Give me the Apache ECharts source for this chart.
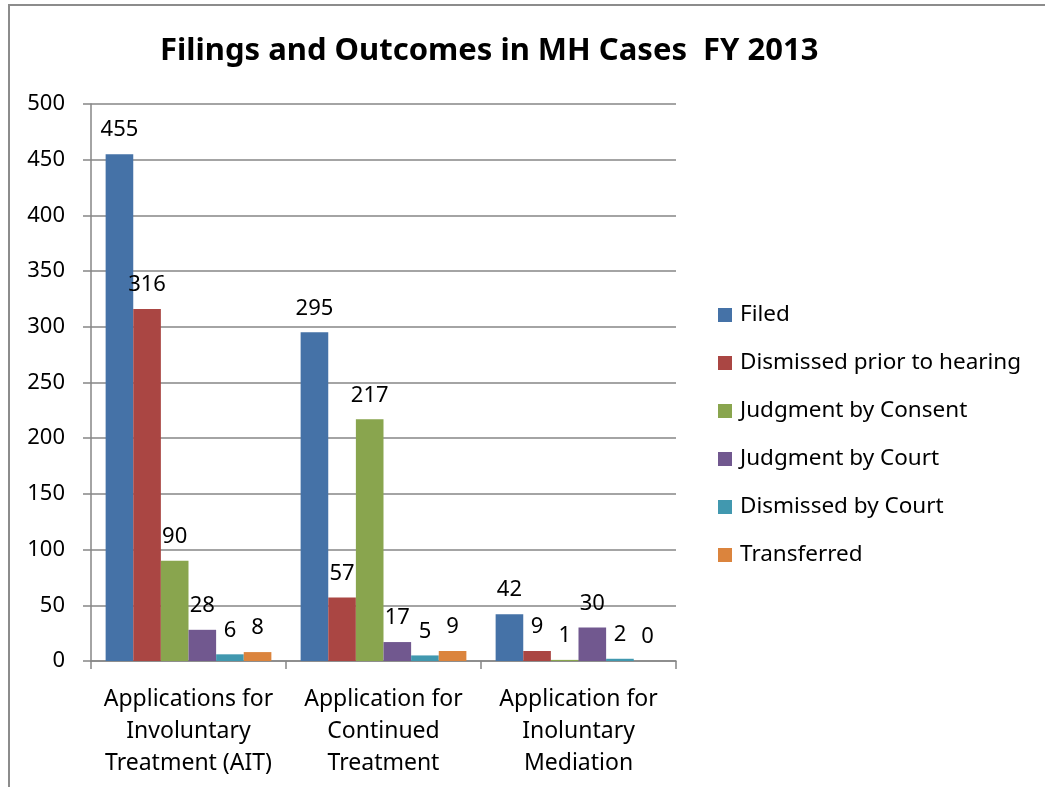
<!DOCTYPE html>
<html>
<head>
<meta charset="utf-8">
<script src="https://cdn.jsdelivr.net/npm/echarts@6/dist/echarts.min.js"></script>
<style>html,body{margin:0;padding:0;background:#fff;}#c{width:1045px;height:787px;}</style>
</head>
<body>
<div id="c"></div>
<script>
const categories = ["Applications for\nInvoluntary\nTreatment (AIT)", "Application for\nContinued\nTreatment", "Application for\nInoluntary\nMediation"];
const seriesNames = ["Filed", "Dismissed prior to hearing", "Judgment by Consent", "Judgment by Court", "Dismissed by Court", "Transferred"];
const filed = [455, 295, 42];
const dismissedPrior = [316, 57, 9];
const judgmentConsent = [90, 217, 1];
const judgmentCourt = [28, 17, 30];
const dismissedCourt = [6, 5, 2];
const transferred = [8, 9, 0];
const yTicks = {min: 0, max: 500, interval: 50};
const colors = ["#4572A7", "#AA4643", "#89A54E", "#71588F", "#4198AF", "#DB843D"];
const values = [filed, dismissedPrior, judgmentConsent, judgmentCourt, dismissedCourt, transferred];
const FONT = "Noto Sans";

const chart = echarts.init(document.getElementById('c'), null, {renderer: 'canvas'});
chart.setOption({
  animation: false,
  textStyle: {fontFamily: FONT},
  title: {
    text: "Filings and Outcomes in MH Cases  FY 2013",
    left: 160, top: 36, padding: 0,
    textStyle: {fontFamily: FONT, fontSize: 31, fontWeight: 'bold', color: '#000'}
  },
  graphic: [{
    type: 'rect', silent: true, z: -1,
    shape: {x: 9, y: 5, width: 1100, height: 900},
    style: {fill: 'none', stroke: '#8c8c8c', lineWidth: 2}
  }],
  legend: {
    orient: 'vertical', left: 718, top: 303, padding: 0,
    itemWidth: 14, itemHeight: 14, itemGap: 24,
    icon: 'rect',
    itemStyle: {borderWidth: 0},
    textStyle: {fontFamily: FONT, fontSize: 22.5, color: '#000', lineHeight: 24, padding: [0,0,0,3]},
    data: seriesNames
  },
  grid: {left: 91, right: 369, top: 104, bottom: 126, containLabel: false},
  xAxis: {
    type: 'category', data: categories,
    axisLine: {lineStyle: {color: '#868686', width: 1.5}},
    axisTick: {show: true, inside: false, length: 8, alignWithLabel: false, lineStyle: {color: '#868686', width: 1.5}},
    axisLabel: {fontFamily: FONT, fontSize: 23, color: '#000', lineHeight: 32, margin: 22, interval: 0}
  },
  yAxis: {
    type: 'value', min: yTicks.min, max: yTicks.max, interval: yTicks.interval,
    axisLine: {show: true, lineStyle: {color: '#868686', width: 1.5}},
    axisTick: {show: true, inside: false, length: 8, lineStyle: {color: '#868686', width: 1.5}},
    splitLine: {lineStyle: {color: '#868686', width: 1.5}},
    axisLabel: {fontFamily: FONT, fontSize: 22, color: '#000', margin: 26}
  },
  series: seriesNames.map((n, i) => ({
    name: n, type: 'bar', data: values[i],
    barGap: '0%', barCategoryGap: '15%',
    itemStyle: {color: colors[i]},
    label: {show: true, position: 'top', distance: 13, fontFamily: FONT, fontSize: 22, color: '#000', lineHeight: 22}
  }))
});
</script>
</body>
</html>
